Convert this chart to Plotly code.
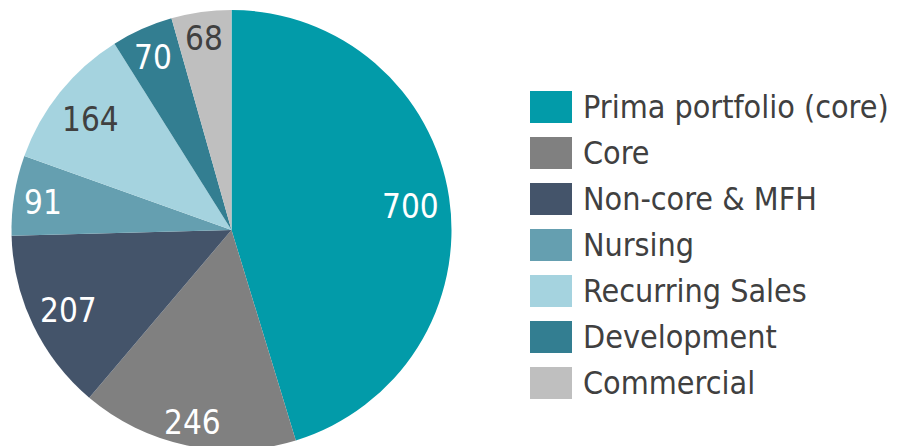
import math
import plotly.graph_objects as go

labels = ["Prima portfolio (core)", "Core", "Non-core & MFH", "Nursing",
          "Recurring Sales", "Development", "Commercial"]
values = [700, 246, 207, 91, 164, 70, 68]
colors = ["#029BA9", "#808080", "#44546A", "#659FB0", "#A5D3DF", "#337E91", "#BFBFBF"]
text_colors = ["white", "white", "white", "white", "#404040", "white", "#404040"]

FONT = "DejaVu Sans Condensed, DejaVu Sans"
LABEL_SIZE = 33
LEGEND_SIZE = 32

# figure coordinates (page shows figure with an 8px body offset)
W, H = 903, 446
R_PX = 220.0
CX, CY = 223.5, 222.0  # pie centre in figure px
dom_x = [(CX - R_PX) / W, (CX + R_PX) / W]
dom_y = [1 - (CY + R_PX) / H, 1 - (CY - R_PX) / H]

fig = go.Figure(go.Pie(
    labels=labels, values=values, sort=False, direction="clockwise", rotation=0,
    marker=dict(colors=colors, line=dict(width=0)),
    textinfo="none", domain=dict(x=dom_x, y=dom_y),
    showlegend=False, hoverinfo="label+value",
))

# value labels placed near the outer edge ("inside end"), derived from the values
total = sum(values)
cum = 0
for v, tc in zip(values, text_colors):
    mid = (cum + v / 2) / total * 2 * math.pi
    cum += v
    half_w = len(str(v)) * 0.573 * LABEL_SIZE / 2
    half_h = 0.729 * LABEL_SIZE / 2
    ext = abs(math.sin(mid)) * half_w + abs(math.cos(mid)) * half_h
    r = R_PX - 9 - ext
    px = CX + r * math.sin(mid)
    py = CY - r * math.cos(mid) + 3
    fig.add_annotation(x=px / W, y=1 - py / H, xref="paper", yref="paper",
                       text=str(v), showarrow=False, xanchor="center", yanchor="middle",
                       font=dict(family=FONT, size=LABEL_SIZE, color=tc))

# custom legend (large swatches like the reference)
top = 99
step = 46
for i, (lab, col) in enumerate(zip(labels, colors)):
    yc = top + i * step
    fig.add_shape(type="rect", xref="paper", yref="paper",
                  x0=522 / W, x1=564 / W,
                  y0=1 - (yc - 16) / H, y1=1 - (yc + 16) / H,
                  fillcolor=col, line=dict(width=0))
    fig.add_annotation(x=573 / W, y=1 - yc / H, xref="paper", yref="paper",
                       text=lab, showarrow=False, xanchor="left", yanchor="middle",
                       font=dict(family=FONT, size=LEGEND_SIZE, color="#404040"))

fig.update_layout(width=W, height=H, margin=dict(l=0, r=0, t=0, b=0),
                  paper_bgcolor="white", plot_bgcolor="white")
fig.write_html("out.html")
